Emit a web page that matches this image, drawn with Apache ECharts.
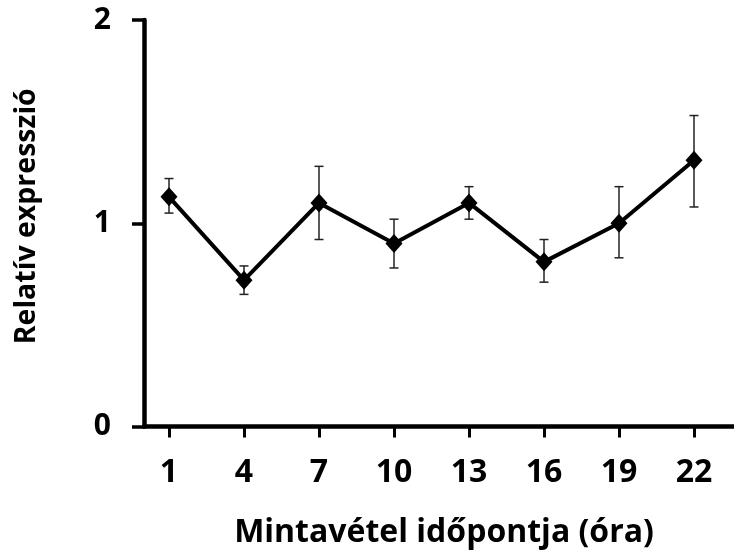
<!DOCTYPE html>
<html>
<head>
<meta charset="utf-8">
<script src="https://cdn.jsdelivr.net/npm/echarts@6/dist/echarts.min.js"></script>
<style>
html,body{margin:0;padding:0;background:#fff;}
#chart{width:734px;height:551px;}
</style>
</head>
<body>
<div id="chart"></div>
<script>
var hours = [1, 4, 7, 10, 13, 16, 19, 22];
var means = [1.13, 0.72, 1.10, 0.90, 1.10, 0.81, 1.00, 1.31];
var upper = [1.22, 0.79, 1.28, 1.02, 1.18, 0.92, 1.18, 1.53];
var lower = [1.05, 0.65, 0.92, 0.78, 1.02, 0.71, 0.83, 1.08];
var yTicks = [0, 1, 2];
var xTitle = 'Mintavétel időpontja (óra)';
var yTitle = 'Relatív expresszió';

var FONT = 'Open Sans';
var chart = echarts.init(document.getElementById('chart'), null, {renderer: 'canvas'});

var lineData = hours.map(function (h, i) { return [h, means[i]]; });
var errData = hours.map(function (h, i) { return [h, lower[i], upper[i]]; });

chart.setOption({
  animation: false,
  backgroundColor: '#ffffff',
  grid: {left: 144, right: -10, top: 20, bottom: 124.5, containLabel: false, outerBoundsMode: 'none'},
  xAxis: {
    type: 'value',
    min: 0,
    max: 24,
    name: xTitle,
    nameLocation: 'middle',
    nameGap: 90,
    nameTextStyle: {fontFamily: FONT, fontWeight: 'bold', fontSize: 32, color: '#000'},
    axisLine: {show: true, lineStyle: {color: '#000', width: 4.5}},
    axisTick: {show: true, customValues: hours, length: 11, lineStyle: {color: '#000', width: 3}},
    axisLabel: {customValues: hours, margin: 30, fontFamily: FONT, fontWeight: 'bold', fontSize: 32, color: '#000'},
    splitLine: {show: false}
  },
  yAxis: {
    type: 'value',
    min: 0,
    max: 2,
    interval: 1,
    name: yTitle,
    nameLocation: 'middle',
    nameGap: 103,
    nameRotate: 90,
    nameTextStyle: {fontFamily: FONT, fontWeight: 'bold', fontSize: 28.5, color: '#000', padding: [0, 0, 0, 14]},
    axisLine: {show: true, lineStyle: {color: '#000', width: 4.5}},
    axisTick: {show: true, length: 12, lineStyle: {color: '#000', width: 3.5}},
    axisLabel: {margin: 33, fontFamily: FONT, fontWeight: 'bold', fontSize: 30, color: '#000'},
    splitLine: {show: false}
  },
  series: [
    {
      type: 'custom',
      data: errData,
      z: 3,
      renderItem: function (params, api) {
        var x = api.value(0);
        var lo = api.coord([x, api.value(1)]);
        var hi = api.coord([x, api.value(2)]);
        var w = 4.5;
        var style = {stroke: '#222', lineWidth: 1.5};
        return {
          type: 'group',
          children: [
            {type: 'line', shape: {x1: lo[0], y1: lo[1], x2: hi[0], y2: hi[1]}, style: style},
            {type: 'line', shape: {x1: hi[0] - w, y1: hi[1], x2: hi[0] + w, y2: hi[1]}, style: style},
            {type: 'line', shape: {x1: lo[0] - w, y1: lo[1], x2: lo[0] + w, y2: lo[1]}, style: style}
          ]
        };
      }
    },
    {
      type: 'line',
      data: lineData,
      z: 4,
      symbol: 'diamond',
      symbolSize: [17, 19],
      lineStyle: {color: '#000', width: 4},
      itemStyle: {color: '#000'}
    }
  ]
});
</script>
</body>
</html>
